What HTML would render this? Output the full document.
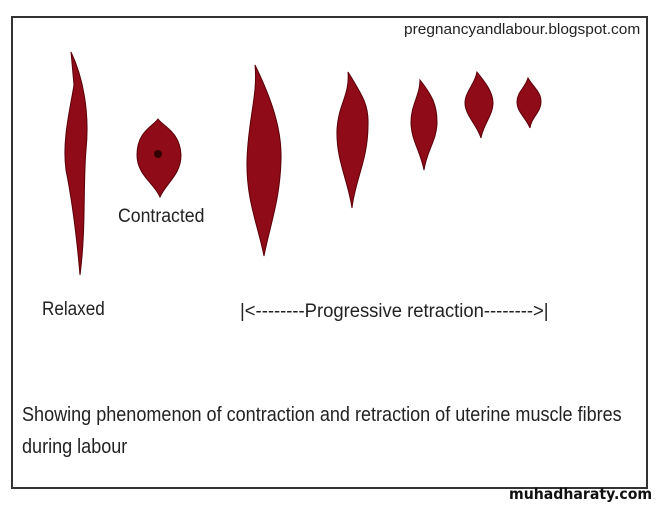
<!DOCTYPE html>
<html><head><style>
body{margin:0;width:658px;height:507px;background:#fff;overflow:hidden;position:relative;font-family:"Liberation Sans",sans-serif}
.box{position:absolute;left:11px;top:16px;width:633px;height:469px;border:2px solid #333;}
.t{position:absolute;white-space:nowrap;color:#222;transform-origin:0 0}
</style></head><body>
<div class="box"></div>
<svg width="658" height="507" style="position:absolute;left:0;top:0">
<g fill="#8e0b17" stroke="#5a0008" stroke-width="1">
<path d="M71,52 C82,75 90,110 86,150 C83,185 86,230 80,275 C77,240 72,200 66,170 C62,140 70,110 74,85 Z"/>
<path d="M158,119 C164,127 180,132 181,155 C181,175 166,183 160,197 C154,183 137,175 137,155 C137,132 152,127 158,119 Z"/>
<path d="M255,65 C272,100 282,130 281,160 C280,200 270,225 264,256 C258,225 246,200 247,160 C248,120 258,95 255,65 Z"/>
<path d="M348,72 C362,95 369,105 368,125 C368,160 355,180 352,208 C348,180 336,160 337,130 C338,105 350,95 348,72 Z"/>
<path d="M420,80 C432,95 437,105 437,122 C437,140 427,150 424,170 C420,150 411,140 411,122 C411,105 420,95 420,80 Z"/>
<path d="M477,72 C485,82 493,92 493,103 C493,115 483,125 481,138 C477,125 465,115 465,103 C465,92 475,84 477,72 Z"/>
<path d="M528,78 C534,88 541,92 541,102 C541,112 531,118 530,128 C526,118 517,112 517,102 C517,92 525,88 528,78 Z"/>
</g>
<circle cx="158" cy="154" r="4" fill="#300"/>
</svg>
<div class="t" style="left:404px;top:21px;font-size:15px;transform:scaleX(1.03)">pregnancyandlabour.blogspot.com</div>
<div class="t" style="left:118px;top:206px;font-size:19px;transform:scaleX(0.93)">Contracted</div>
<div class="t" style="left:42px;top:299px;font-size:19px;transform:scaleX(0.9)">Relaxed</div>
<div class="t" style="left:240px;top:301px;font-size:19px;transform:scaleX(0.97)">|&lt;--------Progressive retraction--------&gt;|</div>
<div class="t" style="left:22px;top:404px;font-size:20px;transform:scaleX(0.902)">Showing phenomenon of contraction and retraction of uterine muscle fibres</div>
<div class="t" style="left:22px;top:436px;font-size:20px;transform:scaleX(0.902)">during labour</div>
<div class="t" style="left:509px;top:485px;font-size:15px;font-weight:bold;font-family:'DejaVu Sans',sans-serif;color:#111;transform:scaleX(0.94)">muhadharaty.com</div>
</body></html>
